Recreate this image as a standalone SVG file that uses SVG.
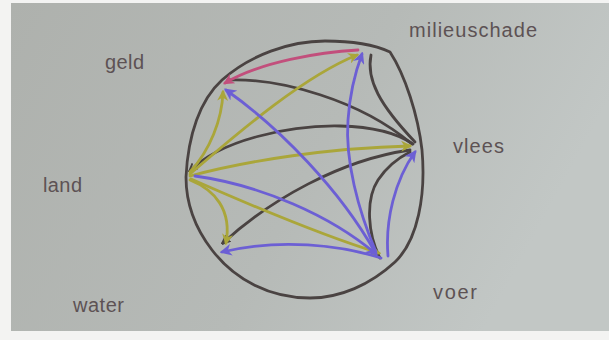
<svg xmlns="http://www.w3.org/2000/svg" width="609" height="340" viewBox="0 0 609 340">
<style>
.lbl{font-family:"Liberation Sans",Arial,sans-serif;font-size:20px;fill:#5d5254}
.c{fill:none;stroke-width:2.8;stroke-linecap:round;stroke-linejoin:round}
.dk{stroke:#4a4342}
.yl{stroke:#aaa63a}
.bl{stroke:#6c5fd4}
.pk{stroke:#c24f7c}
</style>
<defs>
<linearGradient id="bg" x1="0" y1="0" x2="1" y2="0.3">
<stop offset="0" stop-color="#aeb1ad"/>
<stop offset="0.6" stop-color="#b6bab7"/>
<stop offset="1" stop-color="#c2c7c5"/>
</linearGradient>
<marker id="aY" viewBox="0 0 10 10" refX="8" refY="5" markerWidth="11" markerHeight="11" markerUnits="userSpaceOnUse" orient="auto"><path d="M0,0 L10,5 L0,10 L3,5 Z" fill="#aaa63a"/></marker>
<marker id="aB" viewBox="0 0 10 10" refX="8" refY="5" markerWidth="12" markerHeight="12" markerUnits="userSpaceOnUse" orient="auto"><path d="M0,0 L10,5 L0,10 L3,5 Z" fill="#6c5fd4"/></marker>
<marker id="aP" viewBox="0 0 10 10" refX="8" refY="5" markerWidth="11" markerHeight="11" markerUnits="userSpaceOnUse" orient="auto"><path d="M0,0 L10,5 L0,10 L3,5 Z" fill="#c24f7c"/></marker>
<marker id="aD" viewBox="0 0 10 10" refX="8" refY="5" markerWidth="9" markerHeight="9" markerUnits="userSpaceOnUse" orient="auto"><path d="M0,1 L10,5 L0,9" fill="none" stroke="#4a4342" stroke-width="2"/></marker>
</defs>
<rect x="0" y="0" width="609" height="340" fill="#f3f3f2"/>
<rect x="11" y="3" width="598" height="328" fill="url(#bg)"/>

<g id="connectors">
<path class="c dk" d="M186,177 C188,135 200,100 222,80 C250,55 290,41 325,41 C350,41 375,45 390,52 C405,75 418,115 422,150 C426,195 418,240 395,262 C370,285 340,298 310,298 C270,298 235,280 212,250 C195,228 186,205 186,177 Z"/>
<path class="c dk" d="M371,55 C366,80 380,105 415,142"/>
<path class="c dk" d="M228,80 C280,78 360,100 412,144"/>
<path class="c dk" d="M413,144 C400,135 380,127 340,126 C290,125 220,140 190,171" marker-end="url(#aD)"/>
<path class="c dk" d="M410,150 C340,160 270,200 223,243" marker-end="url(#aD)"/>
<path class="c dk" d="M380,258 C368,235 365,200 378,180 C388,165 400,157 410,152"/>
<path class="c pk" d="M358,50 C320,52 260,62 225,83" marker-end="url(#aP)"/>
<path class="c yl" d="M190,174 C230,140 300,78 357,55" marker-end="url(#aY)"/>
<path class="c yl" d="M190,172 C210,150 222,120 223,92" marker-end="url(#aY)"/>
<path class="c yl" d="M190,176 C250,160 330,148 410,146" marker-end="url(#aY)"/>
<path class="c yl" d="M190,180 C215,190 232,210 226,243" marker-end="url(#aY)"/>
<path class="c yl" d="M191,179 C250,205 320,235 379,253" marker-end="url(#aY)"/>
<path class="c bl" d="M375,252 C340,190 280,128 226,90" marker-end="url(#aB)"/>
<path class="c bl" d="M195,176 C260,185 330,215 376,254" marker-end="url(#aB)"/>
<path class="c bl" d="M376,252 C358,210 345,160 348,120 C350,90 356,70 362,54" marker-end="url(#aB)"/>
<path class="c bl" d="M381,258 C340,245 280,238 222,252" marker-end="url(#aB)"/>
<path class="c bl" d="M388,256 C385,220 395,180 415,152" marker-end="url(#aB)"/>
</g>

<g id="geld"><text class="lbl" x="105" y="69" textLength="39" lengthAdjust="spacing">geld</text></g>
<g id="milieuschade"><text class="lbl" x="409" y="37" textLength="128" lengthAdjust="spacing">milieuschade</text></g>
<g id="vlees"><text class="lbl" x="453" y="153" textLength="51" lengthAdjust="spacing">vlees</text></g>
<g id="land"><text class="lbl" x="43" y="192" textLength="39" lengthAdjust="spacing">land</text></g>
<g id="water"><text class="lbl" x="73" y="312" textLength="51" lengthAdjust="spacing">water</text></g>
<g id="voer"><text class="lbl" x="433" y="299" textLength="44" lengthAdjust="spacing">voer</text></g>
</svg>
